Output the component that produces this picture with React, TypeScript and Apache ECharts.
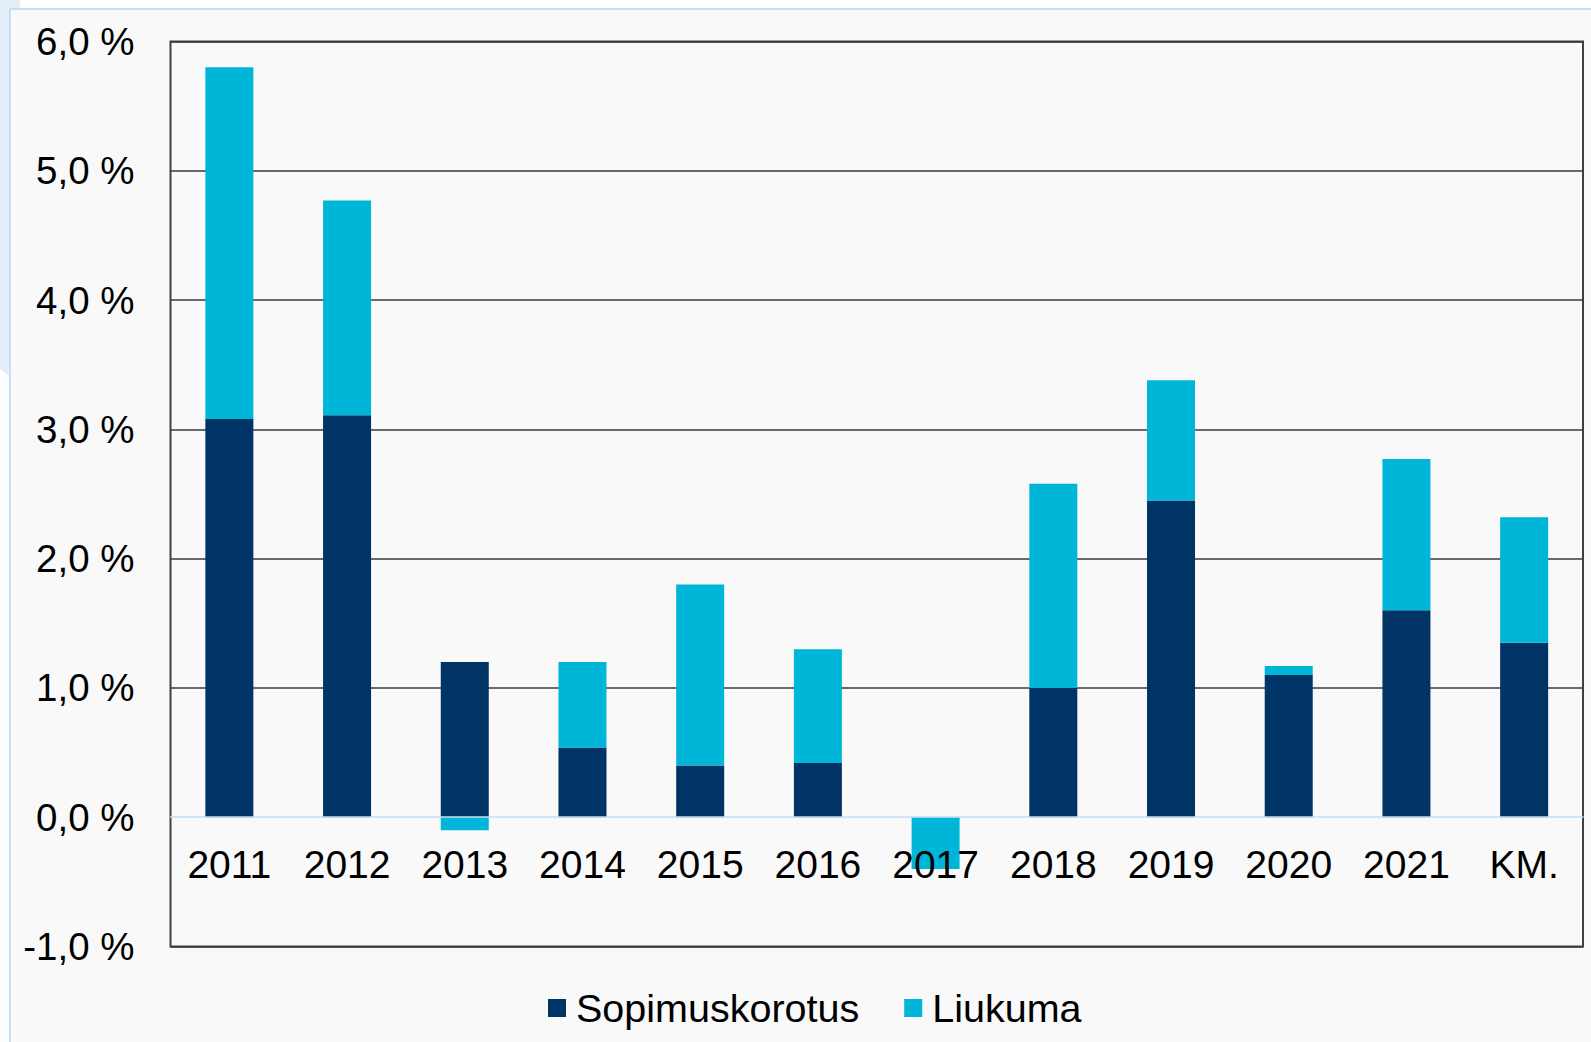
import React, { useEffect, useRef } from "react";
import * as echarts from "echarts";

const categories = ["2011", "2012", "2013", "2014", "2015", "2016", "2017", "2018", "2019", "2020", "2021", "KM."];
const sopimuskorotus = [3.08, 3.11, 1.2, 0.54, 0.4, 0.42, 0, 1.0, 2.45, 1.1, 1.6, 1.35];
const liukuma = [2.72, 1.66, -0.1, 0.66, 1.4, 0.88, -0.4, 1.58, 0.93, 0.07, 1.17, 0.97];
const yTicks = [-1, 0, 1, 2, 3, 4, 5, 6];
const seriesNames = ["Sopimuskorotus", "Liukuma"];

const NAVY = "#003366";
const CYAN = "#00B6D8";
const FONT = "'Liberation Sans', Arial, sans-serif";

const GRID_TOP = 41.5;
const GRID_BOTTOM = 95.5;
const H = 1042;
const Y_MIN = -1;
const Y_MAX = 6;

export default function App() {
  const ref = useRef<HTMLDivElement>(null);
  useEffect(() => {
    if (!ref.current) return;
    const chart = echarts.init(ref.current, null, { renderer: "svg" });
    const splitColors = yTicks.map((v) => (v === 0 ? "rgba(0,0,0,0)" : "#3a3a3a"));
    const unit = (H - GRID_TOP - GRID_BOTTOM) / (Y_MAX - Y_MIN);
    const zeroOffset = -(0 - Y_MIN) * unit;
    chart.setOption({
      animation: false,
      backgroundColor: "#f9f9f9",
      textStyle: { fontFamily: FONT },
      graphic: [
        { type: "rect", z: -10, silent: true, shape: { x: 0, y: 0, width: 1591, height: 9 }, style: { fill: "#ffffff" } },
        { type: "rect", z: -10, silent: true, shape: { x: 0, y: 0, width: 9, height: 1042 }, style: { fill: "#fbfdff" } },
        {
          type: "polygon", z: -9, silent: true,
          shape: { points: [[0, 0], [20, 0], [20, 8], [9, 8], [9, 376], [0, 369]] },
          style: { fill: "#e3eef9" },
        },
        { type: "rect", z: -8, silent: true, shape: { x: 9, y: 8, width: 1582, height: 2 }, style: { fill: "#c8def6" } },
        { type: "rect", z: -8, silent: true, shape: { x: 9, y: 8, width: 2, height: 1034 }, style: { fill: "#c8def6" } },
      ],
      grid: {
        left: 170.5,
        right: 8,
        top: GRID_TOP,
        bottom: GRID_BOTTOM,
        show: true,
        borderColor: "#404040",
        borderWidth: 2,
        backgroundColor: "transparent",
      },
      legend: {
        data: seriesNames,
        left: 543,
        top: 983,
        icon: "rect",
        itemWidth: 18,
        itemHeight: 18,
        itemGap: 45,
        textStyle: { fontSize: 39.5, color: "#000", fontFamily: FONT, padding: [0, 0, 0, 5] },
      },
      xAxis: {
        type: "category",
        data: categories,
        position: "bottom",
        offset: zeroOffset,
        axisLine: { show: true, onZero: false, lineStyle: { color: "#c6dcf5", width: 1.5 } },
        axisTick: { show: false },
        axisLabel: { fontSize: 39, color: "#000", margin: 28, fontFamily: FONT },
        splitLine: { show: false },
        z: 5,
      },
      yAxis: {
        type: "value",
        min: Y_MIN,
        max: Y_MAX,
        interval: 1,
        axisLine: { show: false },
        axisTick: { show: false },
        axisLabel: {
          fontSize: 38.5,
          color: "#000",
          margin: 36,
          fontFamily: FONT,
          formatter: (v: number) => v.toFixed(1).replace(".", ",") + " %",
        },
        splitLine: { show: true, lineStyle: { color: splitColors, width: 1.5 } },
      },
      series: [
        {
          name: seriesNames[0],
          type: "bar",
          stack: "total",
          data: sopimuskorotus,
          barWidth: 48,
          itemStyle: { color: NAVY },
        },
        {
          name: seriesNames[1],
          type: "bar",
          stack: "total",
          data: liukuma,
          barWidth: 48,
          itemStyle: { color: CYAN },
        },
      ],
    });
    return () => chart.dispose();
  }, []);
  return (
    <div
      ref={ref}
      style={{ position: "absolute", left: 0, top: 0, width: 1591, height: 1042 }}
    />
  );
}
